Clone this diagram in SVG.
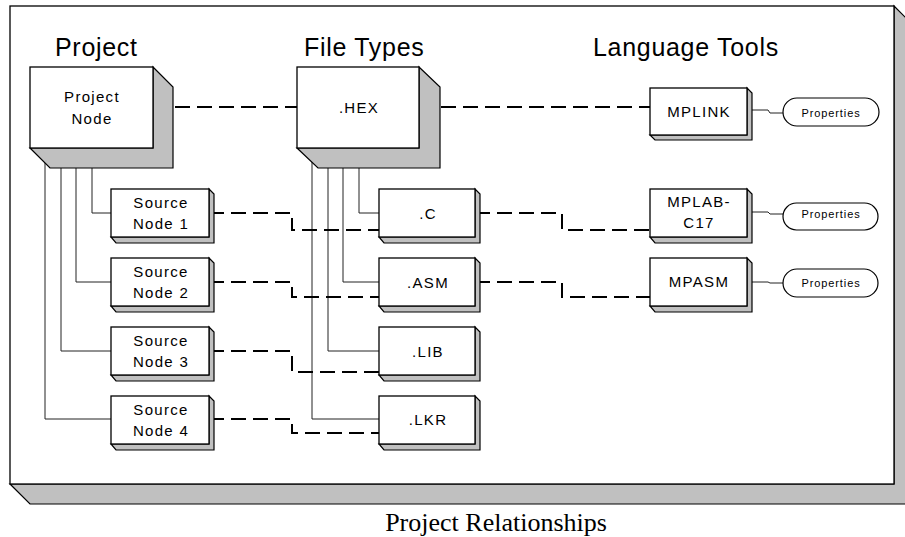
<svg xmlns="http://www.w3.org/2000/svg" width="905" height="537" viewBox="0 0 905 537">
<style>
.box{fill:#fff;stroke:#000;stroke-width:1.3}
.sh{fill:#c0c0c0;stroke:#000;stroke-width:1.2;stroke-linejoin:miter}
.ln{fill:none;stroke:#222;stroke-width:1}
.dash{fill:none;stroke:#000;stroke-width:2;stroke-dasharray:15 7}
.t{font-family:"Liberation Sans",Arial,sans-serif;fill:#000}
.title{font-size:25px;letter-spacing:0.7px}
.nt{font-size:15px;letter-spacing:1.3px;text-anchor:middle}
.pt{font-size:11px;letter-spacing:0.9px;text-anchor:middle}
.prop{fill:#fff;stroke:#000;stroke-width:1.2}
.cap{font-family:"Liberation Serif","Times New Roman",serif;font-size:26px;text-anchor:middle;fill:#000}
</style>
<g id="frame">
<polygon class="sh" points="894,6 914,26 914,504 30,504 10,484 894,484"/>
<rect class="box" x="10" y="6" width="884" height="478" stroke-width="1.5"/>
</g>
<g id="titles">
<text class="t title" x="55" y="56">Project</text>
<text class="t title" x="304" y="56">File Types</text>
<text class="t title" x="593" y="56">Language Tools</text>
</g>
<g id="connectors">
<polyline class="ln" points="45,148 45,419 111,419"/>
<polyline class="ln" points="61,148 61,351 111,351"/>
<polyline class="ln" points="76,148 76,282 111,282"/>
<polyline class="ln" points="92,148 92,213 111,213"/>
<polyline class="ln" points="312,148 312,419 379,419"/>
<polyline class="ln" points="328,148 328,351 379,351"/>
<polyline class="ln" points="343,148 343,282 379,282"/>
<polyline class="ln" points="359,148 359,213 379,213"/>
<polyline class="ln" points="747,110 768,110 770,113 783,113"/>
<polyline class="ln" points="747,212 768,212 770,214 783,214"/>
<polyline class="ln" points="747,282 768,282 770,283 783,283"/>
<line class="dash" x1="153" y1="107" x2="297" y2="107"/>
<line class="dash" x1="419" y1="107" x2="650" y2="107"/>
<polyline class="dash" points="209,213 292,213 292,230 379,230"/>
<polyline class="dash" points="209,282 292,282 292,297 379,297"/>
<polyline class="dash" points="209,351 292,351 292,372 379,372"/>
<polyline class="dash" points="209,419 292,419 292,433 379,433"/>
<polyline class="dash" points="475,213 562,213 562,230 650,230"/>
<polyline class="dash" points="475,282 562,282 562,297 650,297"/>
</g>
<g id="project-node">
<polygon class="sh" points="153,67 173,87 173,168 50,168 30,148 153,148"/>
<rect class="box" x="30" y="67" width="123" height="81"/>
<text class="t nt" x="92" y="102">Project</text>
<text class="t nt" x="92" y="124">Node</text>
</g>
<g id="hex">
<polygon class="sh" points="419,67 440,87 440,168 318,168 297,148 419,148"/>
<rect class="box" x="297" y="67" width="122" height="81"/>
<text class="t nt" x="359" y="113">.HEX</text>
</g>
<g id="source-node-1">
<polygon class="sh" points="209,189 214,194 214,243 116,243 111,237 209,237"/>
<rect class="box" x="111" y="189" width="98" height="48"/>
<text class="t nt" x="161" y="208">Source</text>
<text class="t nt" x="161" y="229">Node 1</text>
</g>
<g id="source-node-2">
<polygon class="sh" points="209,258 214,263 214,312 116,312 111,306 209,306"/>
<rect class="box" x="111" y="258" width="98" height="48"/>
<text class="t nt" x="161" y="277">Source</text>
<text class="t nt" x="161" y="298">Node 2</text>
</g>
<g id="source-node-3">
<polygon class="sh" points="209,327 214,332 214,381 116,381 111,375 209,375"/>
<rect class="box" x="111" y="327" width="98" height="48"/>
<text class="t nt" x="161" y="346">Source</text>
<text class="t nt" x="161" y="367">Node 3</text>
</g>
<g id="source-node-4">
<polygon class="sh" points="209,396 214,401 214,450 116,450 111,444 209,444"/>
<rect class="box" x="111" y="396" width="98" height="48"/>
<text class="t nt" x="161" y="415">Source</text>
<text class="t nt" x="161" y="436">Node 4</text>
</g>
<g id="c-file">
<polygon class="sh" points="475,189 480,194 480,243 384,243 379,237 475,237"/>
<rect class="box" x="379" y="189" width="96" height="48"/>
<text class="t nt" x="428" y="219">.C</text>
</g>
<g id="asm-file">
<polygon class="sh" points="475,258 480,263 480,312 384,312 379,306 475,306"/>
<rect class="box" x="379" y="258" width="96" height="48"/>
<text class="t nt" x="428" y="288">.ASM</text>
</g>
<g id="lib-file">
<polygon class="sh" points="475,327 480,332 480,381 384,381 379,375 475,375"/>
<rect class="box" x="379" y="327" width="96" height="48"/>
<text class="t nt" x="428" y="357">.LIB</text>
</g>
<g id="lkr-file">
<polygon class="sh" points="475,396 480,401 480,450 384,450 379,444 475,444"/>
<rect class="box" x="379" y="396" width="96" height="48"/>
<text class="t nt" x="428" y="425">.LKR</text>
</g>
<g id="mplink">
<polygon class="sh" points="747,88 752,93 752,140 655,140 650,135 747,135"/>
<rect class="box" x="650" y="88" width="97" height="47"/>
<text class="t nt" x="699" y="117">MPLINK</text>
</g>
<g id="mplab-c17">
<polygon class="sh" points="747,189 752,194 752,243 655,243 650,237 747,237"/>
<rect class="box" x="650" y="189" width="97" height="48"/>
<text class="t nt" x="699" y="207">MPLAB-</text>
<text class="t nt" x="699" y="228">C17</text>
</g>
<g id="mpasm">
<polygon class="sh" points="747,258 752,263 752,312 655,312 650,306 747,306"/>
<rect class="box" x="650" y="258" width="97" height="48"/>
<text class="t nt" x="699" y="287">MPASM</text>
</g>
<g id="properties-1">
<rect class="prop" x="783" y="98" width="96" height="28" rx="14" ry="14"/>
<text class="t pt" x="831" y="117">Properties</text>
</g>
<g id="properties-2">
<rect class="prop" x="783" y="203" width="95" height="27" rx="13.5" ry="13.5"/>
<text class="t pt" x="831" y="218">Properties</text>
</g>
<g id="properties-3">
<rect class="prop" x="783" y="269" width="95" height="28" rx="14" ry="14"/>
<text class="t pt" x="831" y="287">Properties</text>
</g>
<text class="cap" x="496" y="531">Project Relationships</text>
</svg>
